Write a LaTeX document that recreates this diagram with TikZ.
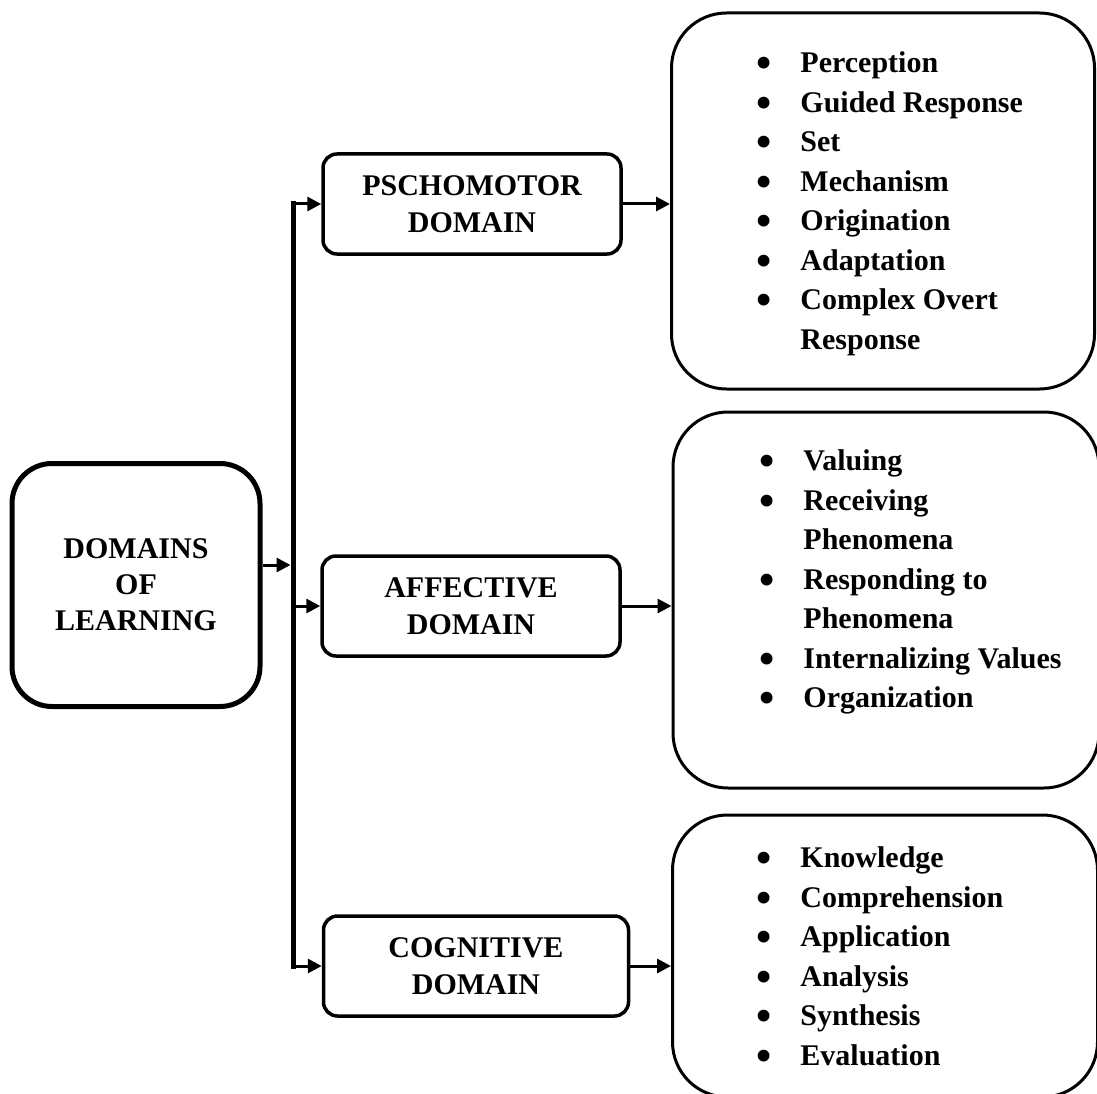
\documentclass[tikz,border=0pt]{standalone}
\usepackage{fontspec}
\setmainfont{Liberation Serif}
\usetikzlibrary{arrows.meta}
\tikzset{
    %Define standard arrow tip
    >={Triangle[length=14pt,width=14pt]},
    rootbox/.style={
      rectangle,
      rounded corners=40pt,
      draw=black, line width=5pt,
      minimum width=248pt,
      minimum height=243pt,
      align=center,
      font=\bfseries\fontsize{30}{36}\selectfont},
    punkt/.style={
      rectangle,
      rounded corners=14pt,
      draw=black, line width=3.5pt,
      minimum width=298pt,
      minimum height=100pt,
      inner sep=0pt,
      align=center,
      font=\bfseries\fontsize{30}{37}\selectfont},
    listbox/.style={
      rectangle,
      rounded corners=55pt,
      draw=black, line width=3pt,
      inner sep=0pt},
    items/.style={
      inner sep=0pt,
      anchor=north west,
      font=\bfseries\fontsize{30}{39.5}\selectfont},
    link/.style={->, line width=3pt},
    bus/.style={line width=5pt, line cap=rect}
}
\newcommand{\itm}{\raisebox{-5pt}{\scalebox{1.45}{\textbullet}}}

\begin{document}
\begin{tikzpicture}[x=1pt,y=-1pt]
\useasboundingbox (0,0) rectangle (1097,1094);

% left root box
\node [rootbox] (dom) at (136,585) {DOMAINS\\OF\\LEARNING};

% the three domains
\node [punkt] (psy) at (472,204) {PSCHOMOTOR\\DOMAIN};
\node [punkt] (aff) at (471,606) {AFFECTIVE\\DOMAIN};
\node [punkt, minimum width=305pt] (cog) at (476,966) {COGNITIVE\\DOMAIN};

% the lists
\node [listbox, minimum width=423pt, minimum height=376pt] (bpsy) at (883,201) {};
\node [listbox, minimum width=426pt, minimum height=376pt] (baff) at (886,600) {};
\node [listbox, minimum width=425pt, minimum height=282pt] (bcog) at (885,956) {};

\node [items] (lpsy) at (756,45) {\begin{tabular}{@{}l@{\hspace{29pt}}l@{}}
  \itm & Perception\\
  \itm & Guided Response\\
  \itm & Set\\
  \itm & Mechanism\\
  \itm & Origination\\
  \itm & Adaptation\\
  \itm & Complex Overt\\
       & Response
\end{tabular}};
\node [items] (laff) at (759,443) {\begin{tabular}{@{}l@{\hspace{29pt}}l@{}}
  \itm & Valuing\\
  \itm & Receiving\\
       & Phenomena\\
  \itm & Responding to\\
       & Phenomena\\
  \itm & Internalizing Values\\
  \itm & Organization
\end{tabular}};
\node [items] (lcog) at (756,840) {\begin{tabular}{@{}l@{\hspace{29pt}}l@{}}
  \itm & Knowledge\\
  \itm & Comprehension\\
  \itm & Application\\
  \itm & Analysis\\
  \itm & Synthesis\\
  \itm & Evaluation
\end{tabular}};

% bus
\coordinate (bustop) at (293,204);
\coordinate (busjoin) at (290.5,565);
\coordinate (busbot) at (293,966);
\draw [bus] (bustop) -- (busbot);
\draw [link] (dom.east |- busjoin) -- (busjoin);
\draw [link] (bustop) -- (psy.west);
\draw [link] (bustop |- aff.west) -- (aff.west);
\draw [link] (busbot) -- (cog.west);

% into the lists
\draw [link] (psy.east) -- (psy.east -| bpsy.west);
\draw [link] (aff.east) -- (aff.east -| baff.west);
\draw [link] (cog.east) -- (cog.east -| bcog.west);
\end{tikzpicture}
\end{document}
